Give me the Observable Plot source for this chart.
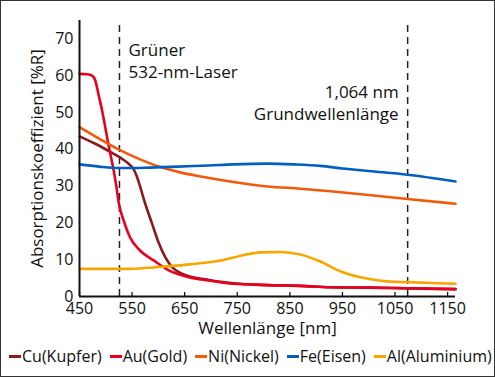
<!DOCTYPE html>
<html>
<head>
<meta charset="utf-8">
<script src="https://cdn.jsdelivr.net/npm/d3@7"></script>
<script src="https://cdn.jsdelivr.net/npm/@observablehq/plot@0.6"></script>
<style>
  body { margin: 0; background: white; }
  #wrap { position: relative; width: 495px; height: 377px; background: white; font-family: 'Open Sans', sans-serif; overflow: hidden; }
  #border { position: absolute; left: 0; top: 0; right: 0; bottom: 0; border: 1.5px solid #333; pointer-events: none; }
  #legend { display: flex; gap: 8px; padding-left: 9px; margin-top: 7px; font-size: 16px; color: #111; line-height: 22px; white-space: nowrap; }
  .item { display: flex; align-items: center; }
  .sw { display: inline-block; width: 12px; height: 3px; margin-right: 1px; }
  svg { display: block; }
</style>
</head>
<body>
<div id="wrap"><div id="chart"></div><div id="legend"></div><div id="border"></div></div>
<script>
// Series names and colours
const seriesNames = ["Cu(Kupfer)", "Au(Gold)", "Ni(Nickel)", "Fe(Eisen)", "Al(Aluminium)"];
const seriesColors = ["#8b1a1f", "#e8001e", "#f05a0a", "#005fbf", "#f7a600"];

// Values: wavelength [nm] and absorption [%R]
const cuNm  = [450, 480, 512, 531, 544, 552, 558, 565, 575, 588, 600, 613, 626, 645, 670, 696, 743, 807, 870, 927, 1000, 1074, 1165];
const cuVal = [43.5, 41.5, 39, 37.4, 36, 34.8, 33, 30, 25.2, 19.8, 14.8, 10.7, 8, 6.2, 5.1, 4.5, 3.6, 3.1, 2.9, 2.5, 2.4, 2.2, 2.0];

const auNm  = [450, 465, 474, 480, 486, 493, 506, 515, 520, 525, 534, 546, 565, 591, 620, 658, 696, 743, 807, 870, 927, 1000, 1074, 1165];
const auVal = [60.5, 60.4, 60, 58.7, 55, 50.5, 40.6, 34.2, 30, 25.2, 20.6, 16.1, 12.5, 9.8, 7.1, 5.25, 4.35, 3.45, 3.1, 2.9, 2.5, 2.4, 2.25, 2.0];

const niNm  = [450, 487, 525, 563, 601, 639, 681, 743, 807, 870, 927, 1000, 1074, 1165];
const niVal = [46, 42.9, 39.9, 37.4, 35.3, 33.8, 32.6, 31.1, 29.9, 29.3, 28.6, 27.6, 26.5, 25.2];

const feNm  = [450, 487, 525, 575, 639, 696, 743, 807, 858, 908, 950, 1000, 1074, 1165];
const feVal = [35.9, 35.3, 34.9, 35, 35.3, 35.6, 35.9, 36.1, 35.9, 35.5, 34.8, 34.1, 33.1, 31.25];

const alNm  = [450, 544, 607, 650, 696, 719, 757, 795, 833, 870, 908, 947, 991, 1035, 1074, 1165];
const alVal = [7.5, 7.5, 8.1, 8.6, 9.3, 9.8, 11.1, 12, 12.1, 11.4, 9.5, 6.8, 5, 4.1, 3.9, 3.45];

// Axis ticks
const xTicks = [450, 550, 650, 750, 850, 950, 1050, 1150];
const yTicks = [0, 10, 20, 30, 40, 50, 60, 70];

// Laser reference lines (as placed in the picture) and their labels
const laserNm = [526, 1074];
const laserLabels = ["Grüner\n532-nm-Laser", "1,064 nm\nGrundwellenlänge"];

const xTitle = "Wellenlänge [nm]";
const yTitle = "Absorptionskoeffizient [%R]";

const seriesNm = [cuNm, auNm, niNm, feNm, alNm];
const seriesVal = [cuVal, auVal, niVal, feVal, alVal];
const table = seriesNames.flatMap((s, i) => seriesNm[i].map((nm, j) => ({series: s, nm, v: seriesVal[i][j]})));

const chart = Plot.plot({
  width: 495,
  height: 338,
  marginLeft: 79,
  marginRight: 40,
  marginTop: 20,
  marginBottom: 42,
  style: {fontFamily: "'Open Sans', sans-serif", fontSize: "16px", color: "#111", background: "white"},
  x: {domain: [450, 1165]},
  y: {domain: [0, 75]},
  color: {domain: seriesNames, range: seriesColors},
  marks: [
    Plot.axisX(xTicks, {tickSize: 0, tickPadding: 6, fontSize: 16, label: null, tickFormat: d => String(d)}),
    Plot.axisY(yTicks, {tickSize: 0, tickPadding: 6, fontSize: 16, label: null, tickFormat: d => String(d)}),
    Plot.ruleX(xTicks, {x: d => d, y1: 0, y2: 1.1, stroke: "#111", strokeWidth: 1.3}),
    Plot.ruleX(laserNm, {x: d => d, y1: 0, y2: 75, stroke: "#222", strokeWidth: 1.5, strokeDasharray: "7,5"}),
    Plot.line(table, {x: "nm", y: "v", z: "series", stroke: "series", strokeWidth: 2.6, curve: "monotone-x"}),
    Plot.ruleY([0], {x1: 450, x2: 1165, stroke: "#111", strokeWidth: 2}),
    Plot.ruleX([450], {y1: 0, y2: 75, stroke: "#111", strokeWidth: 2}),
    Plot.text([laserLabels[0]], {x: laserNm[0], y: 64.3, text: d => d, dx: 9, textAnchor: "start", lineAnchor: "middle", lineHeight: 1.3, fontSize: 17, fill: "#111"}),
    Plot.text([laserLabels[1]], {x: laserNm[1], y: 52.9, text: d => d, dx: -9, textAnchor: "end", lineAnchor: "middle", lineHeight: 1.3, fontSize: 17, fill: "#111"}),
    Plot.text([xTitle], {frameAnchor: "bottom", dy: 32, text: d => d, fontSize: 17, textAnchor: "middle", lineAnchor: "middle", fill: "#111"}),
    Plot.text([yTitle], {frameAnchor: "left", dx: -42, rotate: -90, text: d => d, fontSize: 17, textAnchor: "middle", lineAnchor: "middle", fill: "#111"})
  ]
});
document.getElementById("chart").appendChild(chart);

const legend = document.getElementById("legend");
seriesNames.forEach((s, i) => {
  const it = document.createElement("div");
  it.className = "item";
  const sw = document.createElement("span");
  sw.className = "sw";
  sw.style.background = seriesColors[i];
  const t = document.createElement("span");
  t.textContent = s;
  it.appendChild(sw);
  it.appendChild(t);
  legend.appendChild(it);
});
</script>
</body>
</html>
